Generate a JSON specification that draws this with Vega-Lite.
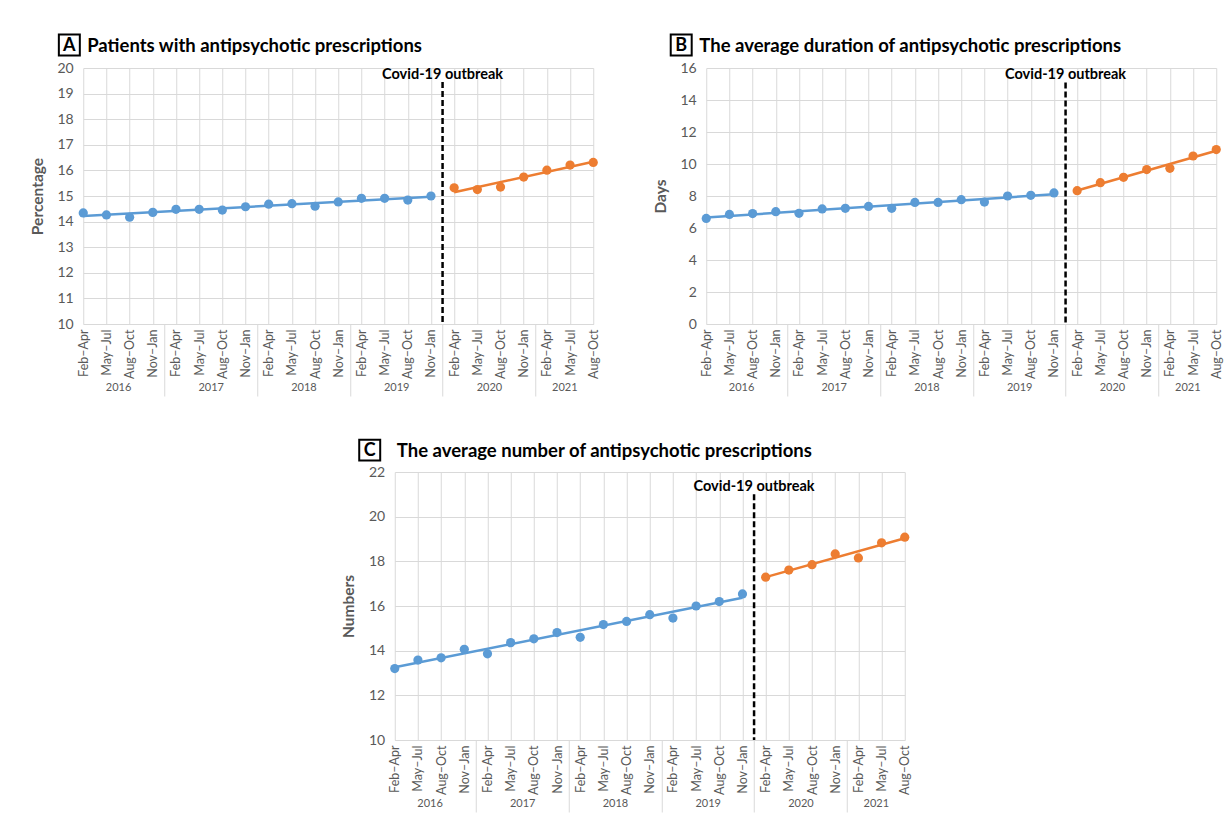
{
  "$schema": "https://vega.github.io/schema/vega-lite/v6.json",
  "background": "white",
  "padding": {"left": 30, "top": 30, "right": 5, "bottom": 5},
  "config": {
    "font": "Lato",
    "view": {"stroke": null},
    "axis": {"labelFont": "Lato", "titleFont": "Lato", "labelColor": "#595959", "titleColor": "#595959", "gridColor": "#d9d9d9", "gridWidth": 1, "domainColor": "#d9d9d9"}
  },
  "datasets": {
    "A": [
      {"i": 1, "year": "2016", "period": "Feb–Apr", "phase": "pre", "value": 14.34},
      {"i": 2, "year": "2016", "period": "May–Jul", "phase": "pre", "value": 14.26},
      {"i": 3, "year": "2016", "period": "Aug–Oct", "phase": "pre", "value": 14.17},
      {"i": 4, "year": "2016", "period": "Nov–Jan", "phase": "pre", "value": 14.36},
      {"i": 5, "year": "2017", "period": "Feb–Apr", "phase": "pre", "value": 14.48},
      {"i": 6, "year": "2017", "period": "May–Jul", "phase": "pre", "value": 14.48},
      {"i": 7, "year": "2017", "period": "Aug–Oct", "phase": "pre", "value": 14.45},
      {"i": 8, "year": "2017", "period": "Nov–Jan", "phase": "pre", "value": 14.58},
      {"i": 9, "year": "2018", "period": "Feb–Apr", "phase": "pre", "value": 14.68},
      {"i": 10, "year": "2018", "period": "May–Jul", "phase": "pre", "value": 14.70},
      {"i": 11, "year": "2018", "period": "Aug–Oct", "phase": "pre", "value": 14.60},
      {"i": 12, "year": "2018", "period": "Nov–Jan", "phase": "pre", "value": 14.77},
      {"i": 13, "year": "2019", "period": "Feb–Apr", "phase": "pre", "value": 14.91},
      {"i": 14, "year": "2019", "period": "May–Jul", "phase": "pre", "value": 14.91},
      {"i": 15, "year": "2019", "period": "Aug–Oct", "phase": "pre", "value": 14.84},
      {"i": 16, "year": "2019", "period": "Nov–Jan", "phase": "pre", "value": 15.00},
      {"i": 17, "year": "2020", "period": "Feb–Apr", "phase": "post", "value": 15.32},
      {"i": 18, "year": "2020", "period": "May–Jul", "phase": "post", "value": 15.25},
      {"i": 19, "year": "2020", "period": "Aug–Oct", "phase": "post", "value": 15.35},
      {"i": 20, "year": "2020", "period": "Nov–Jan", "phase": "post", "value": 15.74},
      {"i": 21, "year": "2021", "period": "Feb–Apr", "phase": "post", "value": 16.01},
      {"i": 22, "year": "2021", "period": "May–Jul", "phase": "post", "value": 16.21},
      {"i": 23, "year": "2021", "period": "Aug–Oct", "phase": "post", "value": 16.31}
    ],
    "B": [
      {"i": 1, "year": "2016", "period": "Feb–Apr", "phase": "pre", "value": 6.60},
      {"i": 2, "year": "2016", "period": "May–Jul", "phase": "pre", "value": 6.85},
      {"i": 3, "year": "2016", "period": "Aug–Oct", "phase": "pre", "value": 6.90},
      {"i": 4, "year": "2016", "period": "Nov–Jan", "phase": "pre", "value": 7.02},
      {"i": 5, "year": "2017", "period": "Feb–Apr", "phase": "pre", "value": 6.92},
      {"i": 6, "year": "2017", "period": "May–Jul", "phase": "pre", "value": 7.19},
      {"i": 7, "year": "2017", "period": "Aug–Oct", "phase": "pre", "value": 7.23},
      {"i": 8, "year": "2017", "period": "Nov–Jan", "phase": "pre", "value": 7.35},
      {"i": 9, "year": "2018", "period": "Feb–Apr", "phase": "pre", "value": 7.23},
      {"i": 10, "year": "2018", "period": "May–Jul", "phase": "pre", "value": 7.60},
      {"i": 11, "year": "2018", "period": "Aug–Oct", "phase": "pre", "value": 7.60},
      {"i": 12, "year": "2018", "period": "Nov–Jan", "phase": "pre", "value": 7.77},
      {"i": 13, "year": "2019", "period": "Feb–Apr", "phase": "pre", "value": 7.62},
      {"i": 14, "year": "2019", "period": "May–Jul", "phase": "pre", "value": 8.00},
      {"i": 15, "year": "2019", "period": "Aug–Oct", "phase": "pre", "value": 8.04},
      {"i": 16, "year": "2019", "period": "Nov–Jan", "phase": "pre", "value": 8.19},
      {"i": 17, "year": "2020", "period": "Feb–Apr", "phase": "post", "value": 8.33},
      {"i": 18, "year": "2020", "period": "May–Jul", "phase": "post", "value": 8.83},
      {"i": 19, "year": "2020", "period": "Aug–Oct", "phase": "post", "value": 9.17},
      {"i": 20, "year": "2020", "period": "Nov–Jan", "phase": "post", "value": 9.65},
      {"i": 21, "year": "2021", "period": "Feb–Apr", "phase": "post", "value": 9.73},
      {"i": 22, "year": "2021", "period": "May–Jul", "phase": "post", "value": 10.50},
      {"i": 23, "year": "2021", "period": "Aug–Oct", "phase": "post", "value": 10.90}
    ],
    "C": [
      {"i": 1, "year": "2016", "period": "Feb–Apr", "phase": "pre", "value": 13.20},
      {"i": 2, "year": "2016", "period": "May–Jul", "phase": "pre", "value": 13.58},
      {"i": 3, "year": "2016", "period": "Aug–Oct", "phase": "pre", "value": 13.68},
      {"i": 4, "year": "2016", "period": "Nov–Jan", "phase": "pre", "value": 14.06},
      {"i": 5, "year": "2017", "period": "Feb–Apr", "phase": "pre", "value": 13.86},
      {"i": 6, "year": "2017", "period": "May–Jul", "phase": "pre", "value": 14.36},
      {"i": 7, "year": "2017", "period": "Aug–Oct", "phase": "pre", "value": 14.53},
      {"i": 8, "year": "2017", "period": "Nov–Jan", "phase": "pre", "value": 14.81},
      {"i": 9, "year": "2018", "period": "Feb–Apr", "phase": "pre", "value": 14.60},
      {"i": 10, "year": "2018", "period": "May–Jul", "phase": "pre", "value": 15.17},
      {"i": 11, "year": "2018", "period": "Aug–Oct", "phase": "pre", "value": 15.31},
      {"i": 12, "year": "2018", "period": "Nov–Jan", "phase": "pre", "value": 15.61},
      {"i": 13, "year": "2019", "period": "Feb–Apr", "phase": "pre", "value": 15.46},
      {"i": 14, "year": "2019", "period": "May–Jul", "phase": "pre", "value": 16.00},
      {"i": 15, "year": "2019", "period": "Aug–Oct", "phase": "pre", "value": 16.20},
      {"i": 16, "year": "2019", "period": "Nov–Jan", "phase": "pre", "value": 16.54},
      {"i": 17, "year": "2020", "period": "Feb–Apr", "phase": "post", "value": 17.29},
      {"i": 18, "year": "2020", "period": "May–Jul", "phase": "post", "value": 17.61},
      {"i": 19, "year": "2020", "period": "Aug–Oct", "phase": "post", "value": 17.85},
      {"i": 20, "year": "2020", "period": "Nov–Jan", "phase": "post", "value": 18.33},
      {"i": 21, "year": "2021", "period": "Feb–Apr", "phase": "post", "value": 18.15},
      {"i": 22, "year": "2021", "period": "May–Jul", "phase": "post", "value": 18.83},
      {"i": 23, "year": "2021", "period": "Aug–Oct", "phase": "post", "value": 19.08}
    ]
  },
  "spacing": 38,
  "center": true,
  "vconcat": [
    {
      "spacing": 52,
      "hconcat": [
        {
          "width": 510, "height": 256,
          "data": {"name": "A"},
          "resolve": {"axis": {"x": "independent", "y": "independent"}},
          "layer": [
            {
              "transform": [{"regression": "value", "on": "i", "groupby": ["phase"]}],
              "mark": {"type": "line", "strokeWidth": 2.5},
              "encoding": {
                "x": {"field": "i", "type": "quantitative", "scale": {"domain": [1, 23], "nice": false, "zero": false},
                  "axis": {"orient": "bottom", "title": null, "values": [1,2,3,4,5,6,7,8,9,10,11,12,13,14,15,16,17,18,19,20,21,22,23], "labelExpr": "['Feb–Apr','May–Jul','Aug–Oct','Nov–Jan'][(datum.value-1)%4]", "labelAngle": -90, "labelAlign": "right", "labelBaseline": "middle", "labelPadding": 5, "labelFontSize": 12.5, "labelFlush": false, "labelOverlap": false, "ticks": false, "grid": true, "domain": true}},
                "y": {"field": "value", "type": "quantitative", "scale": {"domain": [10, 20], "nice": false, "zero": false},
                  "axis": {"orient": "left", "title": "Percentage", "values": [10,11,12,13,14,15,16,17,18,19,20], "ticks": false, "domain": false, "grid": true, "labelFontSize": 14, "labelPadding": 10, "titleFontSize": 15.5, "titleFontWeight": "bold", "titlePadding": 12}},
                "color": {"field": "phase", "type": "nominal", "scale": {"domain": ["pre", "post"], "range": ["#5B9BD5", "#ED7D31"]}, "legend": null}
              }
            },
            {
              "mark": {"type": "circle", "size": 85, "opacity": 1},
              "encoding": {
                "x": {"field": "i", "type": "quantitative", "scale": {"domain": [1, 23], "nice": false, "zero": false},
                  "axis": {"orient": "bottom", "title": null, "values": [4.5, 8.5, 12.5, 16.5, 20.5], "labels": false, "ticks": true, "tickSize": 72, "tickColor": "#d9d9d9", "grid": false, "domain": false}},
                "y": {"field": "value", "type": "quantitative", "scale": {"domain": [10, 20], "nice": false, "zero": false}, "axis": null},
                "color": {"field": "phase", "type": "nominal", "scale": {"domain": ["pre", "post"], "range": ["#5B9BD5", "#ED7D31"]}, "legend": null}
              }
            },
            {
              "data": {"values": [{"label": "Covid-19 outbreak"}]},
              "mark": {"type": "rule", "color": "black", "strokeWidth": 2.5, "strokeDash": [6, 3]},
              "encoding": {
                "x": {"datum": 16.5, "type": "quantitative", "scale": {"domain": [1, 23], "nice": false, "zero": false},
                  "axis": {"orient": "bottom", "title": null, "values": [2.5, 6.5, 10.5, 14.5, 18.5, 21.75], "labelExpr": "['2016','2017','2018','2019','2020','2021'][floor((datum.value-0.5)/4)]", "labelAngle": 0, "labelPadding": 57, "labelFontSize": 11, "labelFlush": false, "labelOverlap": false, "ticks": false, "grid": false, "domain": false}},
                "y": {"datum": 19.45, "type": "quantitative", "scale": {"domain": [10, 20], "nice": false, "zero": false}, "axis": null},
                "y2": {"datum": 10}
              }
            },
            {
              "data": {"values": [{"label": "Covid-19 outbreak"}]},
              "mark": {"type": "text", "fontWeight": "bold", "fontSize": 14.5, "color": "black", "baseline": "bottom", "align": "center"},
              "encoding": {
                "x": {"datum": 16.5, "type": "quantitative", "scale": {"domain": [1, 23], "nice": false, "zero": false}, "axis": null},
                "y": {"datum": 19.45, "type": "quantitative", "scale": {"domain": [10, 20], "nice": false, "zero": false}, "axis": null},
                "text": {"field": "label"}
              }
            },
            {
              "data": {"values": [{"letter": "A", "title": "Patients with antipsychotic prescriptions"}]},
              "mark": {"type": "point", "shape": "square", "size": 440, "filled": false, "stroke": "black", "strokeWidth": 2, "opacity": 1},
              "encoding": {
                "x": {"datum": 0.4, "type": "quantitative", "scale": {"domain": [1, 23], "nice": false, "zero": false}, "axis": null},
                "y": {"datum": 20.9, "type": "quantitative", "scale": {"domain": [10, 20], "nice": false, "zero": false}, "axis": null}
              }
            },
            {
              "data": {"values": [{"letter": "A", "title": "Patients with antipsychotic prescriptions"}]},
              "mark": {"type": "text", "fontWeight": "bold", "fontSize": 18, "color": "black", "baseline": "middle", "align": "center", "dy": 1},
              "encoding": {
                "x": {"datum": 0.4, "type": "quantitative", "scale": {"domain": [1, 23], "nice": false, "zero": false}, "axis": null},
                "y": {"datum": 20.9, "type": "quantitative", "scale": {"domain": [10, 20], "nice": false, "zero": false}, "axis": null},
                "text": {"field": "letter"}
              }
            },
            {
              "data": {"values": [{"letter": "A", "title": "Patients with antipsychotic prescriptions"}]},
              "mark": {"type": "text", "fontWeight": "bold", "fontSize": 18.5, "color": "black", "baseline": "middle", "align": "left", "dy": 1},
              "encoding": {
                "x": {"datum": 1.17, "type": "quantitative", "scale": {"domain": [1, 23], "nice": false, "zero": false}, "axis": null},
                "y": {"datum": 20.9, "type": "quantitative", "scale": {"domain": [10, 20], "nice": false, "zero": false}, "axis": null},
                "text": {"field": "title"}
              }
            }
          ]
        },
        {
          "width": 510, "height": 256,
          "data": {"name": "B"},
          "resolve": {"axis": {"x": "independent", "y": "independent"}},
          "layer": [
            {
              "transform": [{"regression": "value", "on": "i", "groupby": ["phase"]}],
              "mark": {"type": "line", "strokeWidth": 2.5},
              "encoding": {
                "x": {"field": "i", "type": "quantitative", "scale": {"domain": [1, 23], "nice": false, "zero": false},
                  "axis": {"orient": "bottom", "title": null, "values": [1,2,3,4,5,6,7,8,9,10,11,12,13,14,15,16,17,18,19,20,21,22,23], "labelExpr": "['Feb–Apr','May–Jul','Aug–Oct','Nov–Jan'][(datum.value-1)%4]", "labelAngle": -90, "labelAlign": "right", "labelBaseline": "middle", "labelPadding": 5, "labelFontSize": 12.5, "labelFlush": false, "labelOverlap": false, "ticks": false, "grid": true, "domain": true}},
                "y": {"field": "value", "type": "quantitative", "scale": {"domain": [0, 16], "nice": false, "zero": false},
                  "axis": {"orient": "left", "title": "Days", "values": [0,2,4,6,8,10,12,14,16], "ticks": false, "domain": false, "grid": true, "labelFontSize": 14, "labelPadding": 10, "titleFontSize": 15.5, "titleFontWeight": "bold", "titlePadding": 12}},
                "color": {"field": "phase", "type": "nominal", "scale": {"domain": ["pre", "post"], "range": ["#5B9BD5", "#ED7D31"]}, "legend": null}
              }
            },
            {
              "mark": {"type": "circle", "size": 85, "opacity": 1},
              "encoding": {
                "x": {"field": "i", "type": "quantitative", "scale": {"domain": [1, 23], "nice": false, "zero": false},
                  "axis": {"orient": "bottom", "title": null, "values": [4.5, 8.5, 12.5, 16.5, 20.5], "labels": false, "ticks": true, "tickSize": 72, "tickColor": "#d9d9d9", "grid": false, "domain": false}},
                "y": {"field": "value", "type": "quantitative", "scale": {"domain": [0, 16], "nice": false, "zero": false}, "axis": null},
                "color": {"field": "phase", "type": "nominal", "scale": {"domain": ["pre", "post"], "range": ["#5B9BD5", "#ED7D31"]}, "legend": null}
              }
            },
            {
              "data": {"values": [{"label": "Covid-19 outbreak"}]},
              "mark": {"type": "rule", "color": "black", "strokeWidth": 2.5, "strokeDash": [6, 3]},
              "encoding": {
                "x": {"datum": 16.5, "type": "quantitative", "scale": {"domain": [1, 23], "nice": false, "zero": false},
                  "axis": {"orient": "bottom", "title": null, "values": [2.5, 6.5, 10.5, 14.5, 18.5, 21.75], "labelExpr": "['2016','2017','2018','2019','2020','2021'][floor((datum.value-0.5)/4)]", "labelAngle": 0, "labelPadding": 57, "labelFontSize": 11, "labelFlush": false, "labelOverlap": false, "ticks": false, "grid": false, "domain": false}},
                "y": {"datum": 15.1, "type": "quantitative", "scale": {"domain": [0, 16], "nice": false, "zero": false}, "axis": null},
                "y2": {"datum": 0}
              }
            },
            {
              "data": {"values": [{"label": "Covid-19 outbreak"}]},
              "mark": {"type": "text", "fontWeight": "bold", "fontSize": 14.5, "color": "black", "baseline": "bottom", "align": "center"},
              "encoding": {
                "x": {"datum": 16.5, "type": "quantitative", "scale": {"domain": [1, 23], "nice": false, "zero": false}, "axis": null},
                "y": {"datum": 15.1, "type": "quantitative", "scale": {"domain": [0, 16], "nice": false, "zero": false}, "axis": null},
                "text": {"field": "label"}
              }
            },
            {
              "data": {"values": [{"letter": "B", "title": "The average duration of antipsychotic prescriptions"}]},
              "mark": {"type": "point", "shape": "square", "size": 440, "filled": false, "stroke": "black", "strokeWidth": 2, "opacity": 1},
              "encoding": {
                "x": {"datum": -0.08, "type": "quantitative", "scale": {"domain": [1, 23], "nice": false, "zero": false}, "axis": null},
                "y": {"datum": 17.44, "type": "quantitative", "scale": {"domain": [0, 16], "nice": false, "zero": false}, "axis": null}
              }
            },
            {
              "data": {"values": [{"letter": "B", "title": "The average duration of antipsychotic prescriptions"}]},
              "mark": {"type": "text", "fontWeight": "bold", "fontSize": 18, "color": "black", "baseline": "middle", "align": "center", "dy": 1},
              "encoding": {
                "x": {"datum": -0.08, "type": "quantitative", "scale": {"domain": [1, 23], "nice": false, "zero": false}, "axis": null},
                "y": {"datum": 17.44, "type": "quantitative", "scale": {"domain": [0, 16], "nice": false, "zero": false}, "axis": null},
                "text": {"field": "letter"}
              }
            },
            {
              "data": {"values": [{"letter": "B", "title": "The average duration of antipsychotic prescriptions"}]},
              "mark": {"type": "text", "fontWeight": "bold", "fontSize": 18.5, "color": "black", "baseline": "middle", "align": "left", "dy": 1},
              "encoding": {
                "x": {"datum": 0.7, "type": "quantitative", "scale": {"domain": [1, 23], "nice": false, "zero": false}, "axis": null},
                "y": {"datum": 17.44, "type": "quantitative", "scale": {"domain": [0, 16], "nice": false, "zero": false}, "axis": null},
                "text": {"field": "title"}
              }
            }
          ]
        }
      ]
    },
    {
      "width": 510, "height": 268,
      "data": {"name": "C"},
      "resolve": {"axis": {"x": "independent", "y": "independent"}},
      "layer": [
        {
          "transform": [{"regression": "value", "on": "i", "groupby": ["phase"]}],
          "mark": {"type": "line", "strokeWidth": 2.5},
          "encoding": {
            "x": {"field": "i", "type": "quantitative", "scale": {"domain": [1, 23], "nice": false, "zero": false},
              "axis": {"orient": "bottom", "title": null, "values": [1,2,3,4,5,6,7,8,9,10,11,12,13,14,15,16,17,18,19,20,21,22,23], "labelExpr": "['Feb–Apr','May–Jul','Aug–Oct','Nov–Jan'][(datum.value-1)%4]", "labelAngle": -90, "labelAlign": "right", "labelBaseline": "middle", "labelPadding": 5, "labelFontSize": 12.5, "labelFlush": false, "labelOverlap": false, "ticks": false, "grid": true, "domain": true}},
            "y": {"field": "value", "type": "quantitative", "scale": {"domain": [10, 22], "nice": false, "zero": false},
              "axis": {"orient": "left", "title": "Numbers", "values": [10,12,14,16,18,20,22], "ticks": false, "domain": false, "grid": true, "labelFontSize": 14, "labelPadding": 10, "titleFontSize": 15.5, "titleFontWeight": "bold", "titlePadding": 12}},
            "color": {"field": "phase", "type": "nominal", "scale": {"domain": ["pre", "post"], "range": ["#5B9BD5", "#ED7D31"]}, "legend": null}
          }
        },
        {
          "mark": {"type": "circle", "size": 85, "opacity": 1},
          "encoding": {
            "x": {"field": "i", "type": "quantitative", "scale": {"domain": [1, 23], "nice": false, "zero": false},
              "axis": {"orient": "bottom", "title": null, "values": [4.5, 8.5, 12.5, 16.5, 20.5], "labels": false, "ticks": true, "tickSize": 72, "tickColor": "#d9d9d9", "grid": false, "domain": false}},
            "y": {"field": "value", "type": "quantitative", "scale": {"domain": [10, 22], "nice": false, "zero": false}, "axis": null},
            "color": {"field": "phase", "type": "nominal", "scale": {"domain": ["pre", "post"], "range": ["#5B9BD5", "#ED7D31"]}, "legend": null}
          }
        },
        {
          "data": {"values": [{"label": "Covid-19 outbreak"}]},
          "mark": {"type": "rule", "color": "black", "strokeWidth": 2.5, "strokeDash": [6, 3]},
          "encoding": {
            "x": {"datum": 16.5, "type": "quantitative", "scale": {"domain": [1, 23], "nice": false, "zero": false},
              "axis": {"orient": "bottom", "title": null, "values": [2.5, 6.5, 10.5, 14.5, 18.5, 21.75], "labelExpr": "['2016','2017','2018','2019','2020','2021'][floor((datum.value-0.5)/4)]", "labelAngle": 0, "labelPadding": 57, "labelFontSize": 11, "labelFlush": false, "labelOverlap": false, "ticks": false, "grid": false, "domain": false}},
            "y": {"datum": 21.0, "type": "quantitative", "scale": {"domain": [10, 22], "nice": false, "zero": false}, "axis": null},
            "y2": {"datum": 10}
          }
        },
        {
          "data": {"values": [{"label": "Covid-19 outbreak"}]},
          "mark": {"type": "text", "fontWeight": "bold", "fontSize": 14.5, "color": "black", "baseline": "bottom", "align": "center"},
          "encoding": {
            "x": {"datum": 16.5, "type": "quantitative", "scale": {"domain": [1, 23], "nice": false, "zero": false}, "axis": null},
            "y": {"datum": 21.0, "type": "quantitative", "scale": {"domain": [10, 22], "nice": false, "zero": false}, "axis": null},
            "text": {"field": "label"}
          }
        },
        {
          "data": {"values": [{"letter": "C", "title": "The average number of antipsychotic prescriptions"}]},
          "mark": {"type": "point", "shape": "square", "size": 440, "filled": false, "stroke": "black", "strokeWidth": 2, "opacity": 1},
          "encoding": {
            "x": {"datum": -0.08, "type": "quantitative", "scale": {"domain": [1, 23], "nice": false, "zero": false}, "axis": null},
            "y": {"datum": 22.98, "type": "quantitative", "scale": {"domain": [10, 22], "nice": false, "zero": false}, "axis": null}
          }
        },
        {
          "data": {"values": [{"letter": "C", "title": "The average number of antipsychotic prescriptions"}]},
          "mark": {"type": "text", "fontWeight": "bold", "fontSize": 18, "color": "black", "baseline": "middle", "align": "center", "dy": 1},
          "encoding": {
            "x": {"datum": -0.08, "type": "quantitative", "scale": {"domain": [1, 23], "nice": false, "zero": false}, "axis": null},
            "y": {"datum": 22.98, "type": "quantitative", "scale": {"domain": [10, 22], "nice": false, "zero": false}, "axis": null},
            "text": {"field": "letter"}
          }
        },
        {
          "data": {"values": [{"letter": "C", "title": "The average number of antipsychotic prescriptions"}]},
          "mark": {"type": "text", "fontWeight": "bold", "fontSize": 18.5, "color": "black", "baseline": "middle", "align": "left", "dy": 1},
          "encoding": {
            "x": {"datum": 1.09, "type": "quantitative", "scale": {"domain": [1, 23], "nice": false, "zero": false}, "axis": null},
            "y": {"datum": 22.98, "type": "quantitative", "scale": {"domain": [10, 22], "nice": false, "zero": false}, "axis": null},
            "text": {"field": "title"}
          }
        }
      ]
    }
  ]
}
